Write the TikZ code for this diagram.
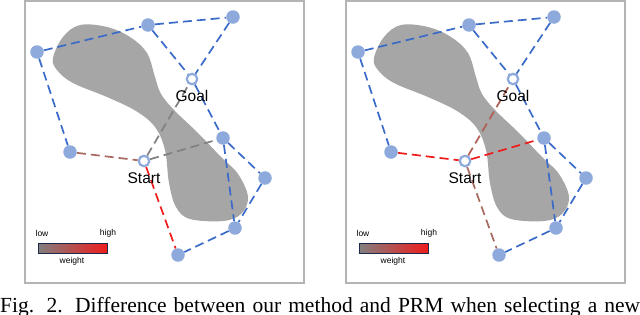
\documentclass[tikz,border=0pt]{standalone}
\usepackage{fontspec}
\setmainfont{Liberation Serif}
\setsansfont{Liberation Sans}
\usetikzlibrary{positioning}
\definecolor{edgeblue}{HTML}{3A6BC9}
\definecolor{wptblue}{HTML}{8EA9DB}
\definecolor{obstgray}{HTML}{A6A6A6}
\definecolor{framegray}{HTML}{B4B4B4}
\definecolor{lowgray}{HTML}{808080}
\definecolor{midbrown}{HTML}{A86A5E}
\definecolor{highred}{HTML}{F01C1C}
\definecolor{barnavy}{HTML}{1F2A4A}

\newcommand{\roadmap}[6]{%
  \begin{scope}[xshift=#2]
    \draw[frame] (25,1) rectangle (304,283);
    \fill[obstgray] plot[smooth cycle, tension=0.6] coordinates {(53,58) (63,37) (80,25) (107,27) (130,37) (147,53) (155,77) (161,94) (175,111) (198,133) (221,157) (238,174) (248,197) (241,214) (223,221) (190,219) (176,207) (169,183) (165,150) (155,127) (136,111) (107,97) (73,83) (57,70)};
    \node[wpt] (#1a) at (37,52) {};
    \node[wpt] (#1b) at (148,25) {};
    \node[wpt] (#1c) at (233,17) {};
    \node[wpt] (#1d) at (223,138) {};
    \node[wpt] (#1e) at (265,178) {};
    \node[wpt] (#1f) at (235,228) {};
    \node[wpt] (#1g) at (178,255) {};
    \node[wpt] (#1h) at (70,152) {};
    \node[endpt] (#1goal) at (192,79) {};
    \node[endpt] (#1start) at (144,161) {};

    \draw[link] (#1a) -- (#1b);
    \draw[link] (#1b) -- (#1c);
    \draw[link] (#1b) -- (#1goal);
    \draw[link] (#1c) -- (#1goal);
    \draw[link] (#1a) -- (#1h);
    \draw[link] (#1goal) -- (#1d);
    \draw[link] (#1d) -- (#1e);
    \draw[link] (#1d) -- (#1f);
    \draw[link] (#1e) -- (#1f);
    \draw[link] (#1f) -- (#1g);
    \draw[link, #3] (#1h) -- (#1start);
    \draw[link, #4] (#1start) -- (#1goal);
    \draw[link, #5] (#1start) -- (#1d);
    \draw[link, #6] (#1start) -- (#1g);

    \node[lbl] (#1goallbl) at (192,96) {Goal};
    \node[lbl] (#1startlbl) at (144,178) {Start};

    \shade[left color=lowgray, right color=highred, draw=barnavy, line width=0.8pt] (38,243) rectangle (107,253);
    \node[keytxt] (#1low) at (42,233) {low};
    \node[keytxt] (#1high) at (108,233) {high};
    \node[keytxt] (#1weight) at (72,261) {weight};
  \end{scope}}

\begin{document}
\begin{tikzpicture}[x=1pt, y=-1pt,
  frame/.style={draw=framegray, line width=1.6pt},
  wpt/.style={circle, fill=wptblue, minimum size=13.5pt, inner sep=0pt},
  endpt/.style={circle, draw=wptblue, line width=2.2pt, fill=white, minimum size=10.5pt, inner sep=0pt},
  link/.style={edgeblue, line width=1.7pt, dash pattern=on 9pt off 5pt},
  lbl/.style={font=\sffamily\fontsize{15.5}{16}\selectfont, inner sep=0pt},
  keytxt/.style={font=\sffamily\fontsize{8.5}{9}\selectfont, inner sep=0pt}
]
  \useasboundingbox (0,0) rectangle (640,314);
  \fill[white] (0,0) rectangle (640,314);

  \roadmap{l}{0pt}{midbrown}{lowgray}{lowgray}{highred}
  \roadmap{r}{321pt}{highred}{midbrown!90!red}{highred}{midbrown}

  \node[anchor=base west, inner sep=0pt, font=\fontsize{21.5}{24}\selectfont] (caption) at (0,312) {\makebox[640pt][s]{Fig. 2. Difference between our method and PRM when selecting a new}};
\end{tikzpicture}
\end{document}
